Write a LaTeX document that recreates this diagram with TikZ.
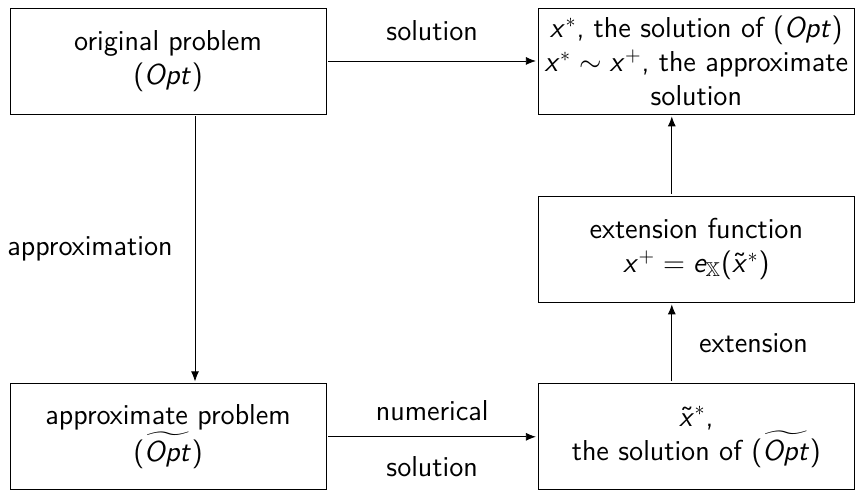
\documentclass[tikz,border=0pt]{standalone}
\usepackage{amsmath, amssymb}
\renewcommand{\familydefault}{\sfdefault}
% sans serif math letters
\DeclareSymbolFont{operators}{OT1}{cmss}{m}{n}
\DeclareSymbolFont{sfletters}{OT1}{cmss}{m}{sl}
\DeclareMathSymbol{x}{\mathalpha}{sfletters}{`x}
\DeclareMathSymbol{e}{\mathalpha}{sfletters}{`e}
\DeclareMathSymbol{O}{\mathalpha}{sfletters}{`O}
\DeclareMathSymbol{p}{\mathalpha}{sfletters}{`p}
\DeclareMathSymbol{t}{\mathalpha}{sfletters}{`t}
\usepackage{tikz}
\usetikzlibrary{positioning,arrows.meta}

\begin{document}
\begin{tikzpicture}[
    font=\fontsize{14.4}{17}\selectfont,
    node distance=134.5pt and 105.75pt,
    box/.style={rectangle, draw, minimum width=158pt, minimum height=53pt, inner sep=1pt, align=center},
    arrow/.style={-{Latex[length=5pt,width=4pt]}, shorten <=1pt, shorten >=1pt},
    lbl/.style={inner sep=0pt}
]
    \useasboundingbox (0,0) rectangle (428.5pt,245.5pt);

    % Exact side
    \node[box] (orig) at (84pt,215pt) {original problem\\$(Opt)$};
    \node[box, right=of orig] (exact) {$x^*$, the solution of $(Opt)$\\$x^*\sim x^+$, the approximate\\solution};

    % Approximate side
    \node[box, below=of orig] (approx) {approximate problem\\$(\widetilde{Opt})$};
    \node[box, right=of approx] (numsol) {$\tilde{x}^*$,\\the solution of $(\widetilde{Opt})$};
    \node[box, above=40.5pt of numsol] (ext) {extension function\\$x^+ = e_{\mathbb{X}}(\tilde{x}^*)$};

    % Arrows
    \draw[arrow] (orig) -- node[lbl, above=10pt] (lsol) {solution} (exact);
    \draw[arrow] ([xshift=13.5pt]orig.south) -- node[lbl, left=11pt] (lapprox) {approximation} ([xshift=13.5pt]approx.north);
    \draw[arrow] (approx) -- node[lbl, above=8pt] (lnum) {numerical} node[lbl, below=9.5pt] (lnumsol) {solution} (numsol);
    \draw[arrow] ([xshift=-12.25pt]numsol.north) -- node[lbl, right=13.5pt] (lext) {extension} ([xshift=-12.25pt]ext.south);
    \draw[arrow] ([xshift=-12.25pt]ext.north) -- ([xshift=-12.25pt]exact.south);
\end{tikzpicture}
\end{document}
